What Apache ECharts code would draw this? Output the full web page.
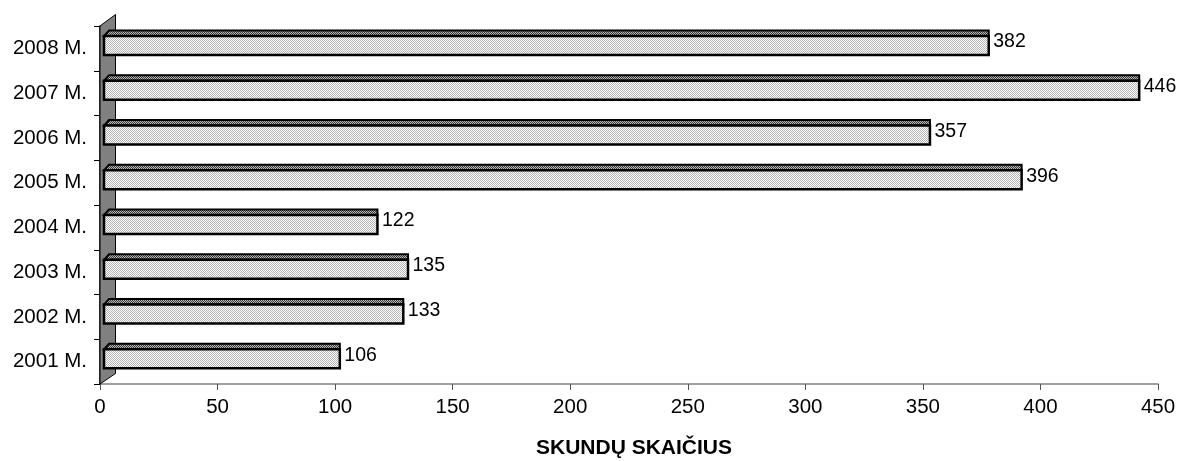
<!DOCTYPE html>
<html>
<head>
<meta charset="utf-8">
<script src="https://cdn.jsdelivr.net/npm/echarts@6/dist/echarts.min.js"></script>
<style>
html,body{margin:0;padding:0;background:#fff;}
#chart{width:1180px;height:461px;}
</style>
</head>
<body>
<div id="chart"></div>
<script>
const categories = ['2001 M.', '2002 M.', '2003 M.', '2004 M.', '2005 M.', '2006 M.', '2007 M.', '2008 M.'];
const values = [106, 133, 135, 122, 396, 357, 446, 382];
const xTicks = [0, 50, 100, 150, 200, 250, 300, 350, 400, 450];
const axisTitle = 'SKUNDŲ SKAIČIUS';

function makePattern(c1, c2) {
  const cv = document.createElement('canvas');
  cv.width = 2; cv.height = 2;
  const ctx = cv.getContext('2d');
  ctx.fillStyle = c2; ctx.fillRect(0, 0, 2, 2);
  ctx.fillStyle = c1; ctx.fillRect(0, 0, 1, 1); ctx.fillRect(1, 1, 1, 1);
  return cv;
}
const frontPat = { image: makePattern('#b4b4b4', '#ffffff'), repeat: 'repeat' };
const topPat = { image: makePattern('#3a3a3a', '#b8b8b8'), repeat: 'repeat' };

const FONT = 'Liberation Sans, Arial, sans-serif';
const chart = echarts.init(document.getElementById('chart'), null, { renderer: 'canvas' });

const barData = values.map((v, i) => [v, i]);

chart.setOption({
  animation: false,
  backgroundColor: '#ffffff',
  grid: { left: 100, right: 22, top: 26, bottom: 77, containLabel: false, outerBoundsMode: 'none' },
  xAxis: {
    type: 'value', min: xTicks[0], max: xTicks[xTicks.length - 1], interval: 50,
    axisLine: { show: true, lineStyle: { color: '#808080', width: 1.5 } },
    axisTick: { show: true, length: 6, lineStyle: { color: '#555', width: 1 } },
    axisLabel: { fontSize: 20.5, color: '#000', fontFamily: FONT, margin: 13 },
    splitLine: { show: false },
    name: axisTitle, nameLocation: 'middle', nameGap: 54, nameMoveOverlap: false,
    nameTextStyle: { fontSize: 21, fontWeight: 'bold', color: '#000', fontFamily: FONT, padding: [0, 0, 0, 10] }
  },
  yAxis: {
    type: 'category', data: categories,
    axisLine: { show: true, lineStyle: { color: '#000', width: 1.5 } },
    axisTick: { show: true, length: 6, lineStyle: { color: '#000', width: 1 } },
    axisLabel: { fontSize: 20.5, color: '#000', fontFamily: FONT, margin: 13 },
    splitLine: { show: false }
  },
  series: [
    {
      type: 'custom', z: 1, silent: true,
      data: [[0, 0]],
      renderItem: function (params, api) {
        const band = api.size([0, 1])[1];
        const p0 = api.coord([0, 0]);
        const pN = api.coord([0, categories.length - 1]);
        const x0 = p0[0];
        const bottom = p0[1] + band / 2;
        const top = pN[1] - band / 2;
        return {
          type: 'polygon',
          shape: { points: [[x0, top], [x0 + 15.5, top - 11.5], [x0 + 15.5, bottom - 10.5], [x0, bottom]] },
          style: { fill: '#808080', stroke: '#000', lineWidth: 1 }
        };
      }
    },
    {
      type: 'custom', z: 2, silent: true,
      encode: { x: 0, y: 1 },
      data: barData,
      renderItem: function (params, api) {
        const v = api.value(0);
        const idx = api.value(1);
        const zero = api.coord([0, idx]);
        const unit = api.size([1, 0])[0];
        const c = zero[1];
        const xs = zero[0] + 4;
        const xe = zero[0] - 9.4 + v * unit;
        return {
          type: 'group',
          children: [
            {
              type: 'polygon',
              shape: { points: [[xs, c - 12.3], [xs + 5, c - 17.8], [xe, c - 17.8], [xe, c - 12.3]] },
              style: { fill: topPat, stroke: '#000', lineWidth: 2 }
            },
            {
              type: 'rect',
              shape: { x: xs, y: c - 12.3, width: xe - xs, height: 18.8 },
              style: { fill: frontPat, stroke: '#000', lineWidth: 2.5 }
            },
            {
              type: 'text',
              style: {
                x: xe + 4.5, y: c - 6.5, text: String(v),
                fill: '#000', fontSize: 19.5, fontFamily: FONT,
                align: 'left', verticalAlign: 'middle'
              }
            }
          ]
        };
      }
    }
  ]
});
</script>
</body>
</html>
